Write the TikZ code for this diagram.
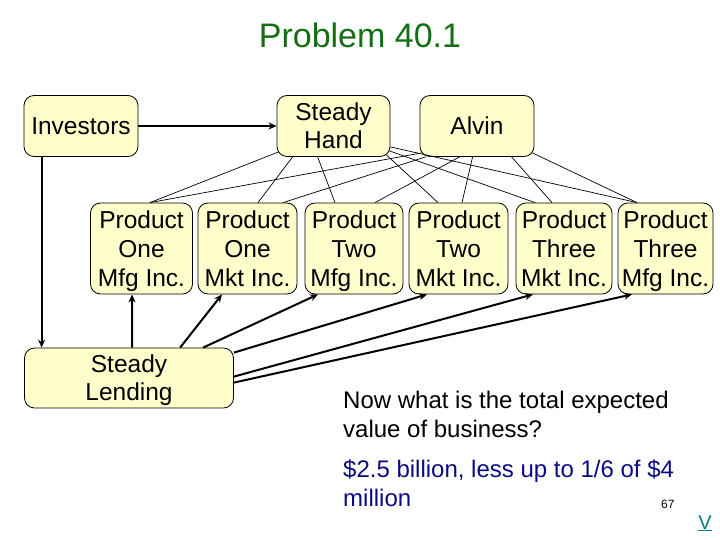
\documentclass[tikz,border=0pt]{standalone}
\usepackage{fontspec}
\setmainfont{Liberation Sans}
\usetikzlibrary{arrows.meta,calc}
\definecolor{boxfill}{RGB}{255,255,204}
\definecolor{titlegreen}{RGB}{20,110,20}
\definecolor{ansblue}{RGB}{10,10,130}
\definecolor{linkteal}{RGB}{0,128,128}
\newcommand\mytop{\rule{0pt}{24pt}}
\newcommand\mybot{\rule[-7pt]{0pt}{7pt}}
\tikzset{
  box/.style={draw=black, line width=0.8pt, rounded corners=10pt, fill=boxfill,
    inner sep=0pt, align=center, font=\fontsize{24.5}{29}\selectfont},
  thin/.style={line width=0.7pt},
  heavy/.style={line width=2pt, -{Stealth[length=8pt,width=7pt]}},
  body/.style={anchor=base west, inner sep=0pt, font=\fontsize{24}{29}\selectfont}
}
\begin{document}
\begin{tikzpicture}[x=1pt,y=-1pt]
\useasboundingbox (0,0) rectangle (720,540);
\node[inner sep=0pt, anchor=base, text=titlegreen, font=\fontsize{34}{40}\selectfont] (title) at (360,48) {Problem 40.1};

\node[box, minimum width=114pt, minimum height=61pt] (inv) at (81,126) {Investors};
\node[box, minimum width=113pt, minimum height=61pt] (sh) at (333.5,126) {\mytop Steady\\[-1pt]Hand\mybot};
\node[box, minimum width=114pt, minimum height=61pt] (alv) at (477,126) {Alvin};

\node[box, minimum width=102pt, minimum height=91pt] (p1f) at (141.5,248.5) {\mytop Product\\One\\Mfg Inc.\mybot};
\node[box, minimum width=99pt, minimum height=91pt] (p1k) at (247.5,248.5) {\mytop Product\\One\\Mkt Inc.\mybot};
\node[box, minimum width=98pt, minimum height=91pt] (p2f) at (354,248.5) {\mytop Product\\Two\\Mfg Inc.\mybot};
\node[box, minimum width=99pt, minimum height=91pt] (p2k) at (458.5,248.5) {\mytop Product\\Two\\Mkt Inc.\mybot};
\node[box, minimum width=96pt, minimum height=91pt] (p3k) at (564,248.5) {\mytop Product\\Three\\Mkt Inc.\mybot};
\node[box, minimum width=95pt, minimum height=91pt] (p3f) at (665.5,248.5) {\mytop Product\\Three\\Mfg Inc.\mybot};

\node[box, minimum width=209pt, minimum height=60pt] (sl) at (129,378) {\mytop Steady\\[-1pt]Lending\mybot};

% Steady Hand to products
\draw[thin] ($(sh.south west)+(2,-5)$) -- ($(p1f.north)+(8.5,0)$);
\draw[thin] ($(sh.south west)+(16,0)$) -- ($(p1k.north)+(10.5,0)$);
\draw[thin] ($(sh.south west)+(41,0)$) -- ($(p2f.north)+(-19,0)$);
\draw[thin] ($(sh.south east)+(-4,-2)$) -- ($(p2k.north)+(-20.5,0)$);
\draw[thin] ($(sh.south east)+(-1,-6)$) -- ($(p3k.north)+(-29,0)$);
\draw[thin] ($(sh.south east)+(0,-10)$) -- ($(p3f.north)+(-28.5,0)$);
% Alvin to products
\draw[thin] ($(alv.south west)+(2,-4)$) -- ($(p1f.north)+(8.5,0)$);
\draw[thin] ($(alv.south west)+(6,0)$) -- ($(p1k.north)+(35.5,0)$);
\draw[thin] ($(alv.south west)+(40,0)$) -- ($(p2f.north)+(21,0)$);
\draw[thin] ($(alv.south west)+(53,0)$) -- ($(p2k.north)+(3.5,0)$);
\draw[thin] ($(alv.south west)+(92,0)$) -- ($(p3k.north)+(-12,0)$);
\draw[thin] ($(alv.south east)+(-2,-4)$) -- ($(p3f.north)+(-28.5,0)$);

% heavy arrows
\draw[heavy] (inv.east) -- (sh.west);
\draw[heavy] ($(inv.south west)+(18,0)$) coordinate (d0) -- (d0 |- sl.north);
\draw[heavy] ($(sl.north west)+(108,0)$) -- ($(p1f.south)+(-9.5,0)$);
\draw[heavy] ($(sl.north west)+(156,0)$) -- ($(p1k.south)+(-25.5,0)$);
\draw[heavy] ($(sl.north west)+(179,0)$) -- ($(p2f.south)+(-36,0)$);
\draw[heavy] ($(sl.north east)+(0,5)$) -- ($(p2k.south)+(-31.5,0)$);
\draw[heavy] ($(sl.north east)+(0,29)$) -- ($(p3k.south)+(-31,0)$);
\draw[heavy] ($(sl.north east)+(0,35)$) -- ($(p3f.south)+(-33.5,0)$);

% text
\node[body] (q1) at (343,408) {Now what is the total expected};
\node[body] (q2) at (343,437) {value of business?};
\node[body, text=ansblue] (a1) at (343,477) {\$2.5 billion, less up to 1/6 of \$4};
\node[body, text=ansblue] (a2) at (343,506) {million};
\node[anchor=base west, inner sep=0pt, font=\fontsize{12}{14}\selectfont] (pg) at (661,508) {67};
\node[anchor=base, inner sep=0pt, text=linkteal, font=\fontsize{20}{24}\selectfont] (lnk) at (705,529) {\underline{V}};
\end{tikzpicture}
\end{document}
